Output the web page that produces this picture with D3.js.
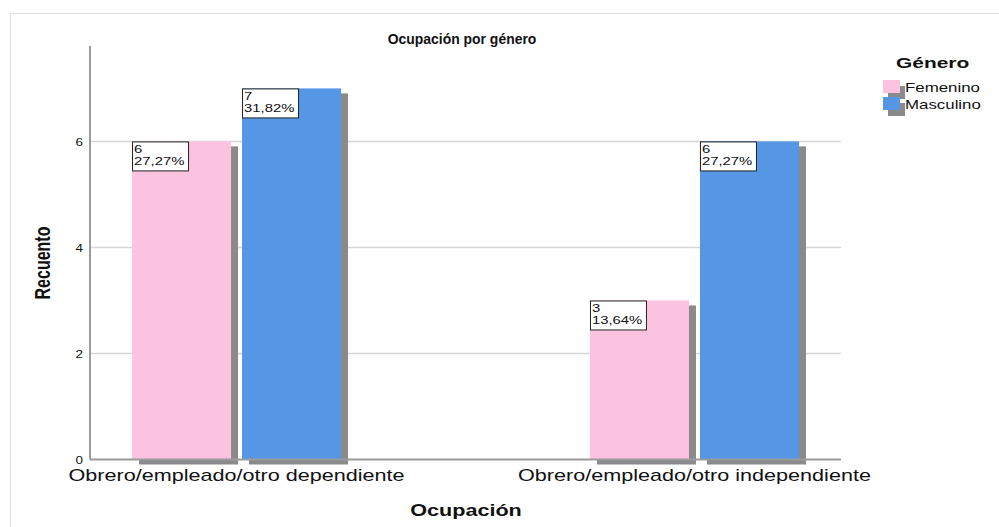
<!DOCTYPE html>
<html>
  <head>
    <meta http-equiv="Content-type" content="text/html; charset=utf-8">
    <title>Ocupación por género</title>
    <script src="https://d3js.org/d3.v7.min.js"></script>
    <style>
      body { margin: 0; background: #fff; }
      text { font-family: "Liberation Sans", Arial, sans-serif; fill: #111; }
    </style>
  </head>
  <body>
    <div id="chart"></div>
    <script type="text/javascript">
      var categories = ["Obrero/empleado/otro dependiente", "Obrero/empleado/otro independiente"];
      var genders = ["Femenino", "Masculino"];
      var femenino = [6, 3];
      var masculino = [7, 6];
      var yTicks = [0, 2, 4, 6];

      var width = 999,
        height = 527,
        stretch = 1.35; // the picture is a bit wider than tall

      var colors = { "Femenino": "#fcc3e0", "Masculino": "#5596e5" };

      var total = d3.sum(femenino) + d3.sum(masculino);
      var rows = [];
      categories.forEach(function(c, i) {
        rows.push({ cat: c, gen: "Femenino", num: femenino[i] });
        rows.push({ cat: c, gen: "Masculino", num: masculino[i] });
      });

      var svg = d3.select("#chart").append("svg")
        .attr("width", width)
        .attr("height", height);

      // outer frame
      svg.append("rect")
        .attr("x", 10.5).attr("y", 13.5)
        .attr("width", width).attr("height", height)
        .style("fill", "#fff")
        .style("stroke", "#e2e2e2");

      var x = d3.scalePoint()
        .domain(categories)
        .range([90, 841])
        .padding(0.32);

      var xGen = d3.scaleBand()
        .domain(genders)
        .range([-104.5, 104.5])
        .paddingInner(0.1);

      var y = d3.scaleLinear()
        .domain([0, 7.8])
        .range([459.5, 46]);

      // stretched text helper
      function label(g, tx, ty, str, size, weight, anchor, sx) {
        return g.append("text")
          .attr("transform", "translate(" + tx + "," + ty + ") scale(" + (sx || stretch) + ",1)")
          .attr("text-anchor", anchor || "start")
          .style("font-size", size + "px")
          .style("font-weight", weight || "normal")
          .text(str);
      }

      // gridlines
      svg.append("g")
        .selectAll("line")
        .data(yTicks.filter(function(d) { return d > 0; }))
        .enter().append("line")
        .attr("x1", 90).attr("x2", 841)
        .attr("y1", function(d) { return y(d); })
        .attr("y2", function(d) { return y(d); })
        .style("stroke", "#d6d6d6")
        .style("stroke-width", 1.5);

      // y axis
      var yAxis = svg.append("g")
        .attr("transform", "translate(90,0)")
        .call(d3.axisLeft(y).tickValues(yTicks).tickSize(0).tickPadding(7));
      yAxis.select(".domain").remove();
      yAxis.selectAll(".tick text").remove();
      yAxis.selectAll(".tick").each(function(d) {
        label(d3.select(this), -7, 4, d, 10, "normal", "end");
      });

      svg.append("line")
        .attr("x1", 90).attr("x2", 90)
        .attr("y1", y.range()[1]).attr("y2", y(0))
        .style("stroke", "#9a9a9a")
        .style("stroke-width", 2);

      // bars
      var bars = svg.append("g").selectAll("g")
        .data(rows)
        .enter().append("g")
        .attr("transform", function(d) { return "translate(" + (x(d.cat) + xGen(d.gen)) + ",0)"; });

      bars.append("rect")
        .attr("x", 7)
        .attr("y", function(d) { return y(d.num) + 5; })
        .attr("width", xGen.bandwidth())
        .attr("height", function(d) { return y(0) - y(d.num); })
        .style("fill", "#8a8a8a");

      bars.append("rect")
        .attr("x", 0)
        .attr("y", function(d) { return y(d.num); })
        .attr("width", xGen.bandwidth())
        .attr("height", function(d) { return y(0) - y(d.num); })
        .style("fill", function(d) { return colors[d.gen]; });

      // baseline
      svg.append("line")
        .attr("x1", 90).attr("x2", 841)
        .attr("y1", y(0)).attr("y2", y(0))
        .style("stroke", "#9a9a9a")
        .style("stroke-width", 2);

      // data labels
      bars.append("rect")
        .attr("x", 0.5)
        .attr("y", function(d) { return y(d.num) + 0.5; })
        .attr("width", 56)
        .attr("height", 29)
        .style("fill", "#fff")
        .style("stroke", "#222");

      bars.each(function(d) {
        var g = d3.select(this);
        var pct = d3.format(".2f")(d.num / total * 100).replace(".", ",") + "%";
        label(g, 2, y(d.num) + 12, d.num, 11);
        label(g, 2, y(d.num) + 24, pct, 11);
      });

      // category labels
      categories.forEach(function(c) {
        label(svg, x(c), 481, c, 16, "normal", "middle");
      });

      // titles
      label(svg, 462, 44, "Ocupación por género", 15, "bold", "middle", 0.93);

      label(svg, 466, 516, "Ocupación", 16, "bold", "middle");

      svg.append("text")
        .attr("transform", "translate(50,263) scale(" + stretch + ",1) rotate(-90)")
        .attr("text-anchor", "middle")
        .style("font-size", "16px")
        .style("font-weight", "bold")
        .text("Recuento");

      // legend
      var legend = svg.append("g");
      label(legend, 896, 68, "Género", 15.5, "bold");

      var items = legend.selectAll("g.item")
        .data(genders)
        .enter().append("g")
        .attr("class", "item")
        .attr("transform", function(d, i) { return "translate(883," + (80 + i * 17) + ")"; });

      items.append("rect")
        .attr("x", 5).attr("y", 6)
        .attr("width", 17).attr("height", 13)
        .style("fill", "#8a8a8a");
      items.append("rect")
        .attr("width", 17).attr("height", 13)
        .style("fill", function(d) { return colors[d]; });
      items.each(function(d) {
        label(d3.select(this), 22, 12, d, 12.5);
      });
    </script>
  </body>
</html>
